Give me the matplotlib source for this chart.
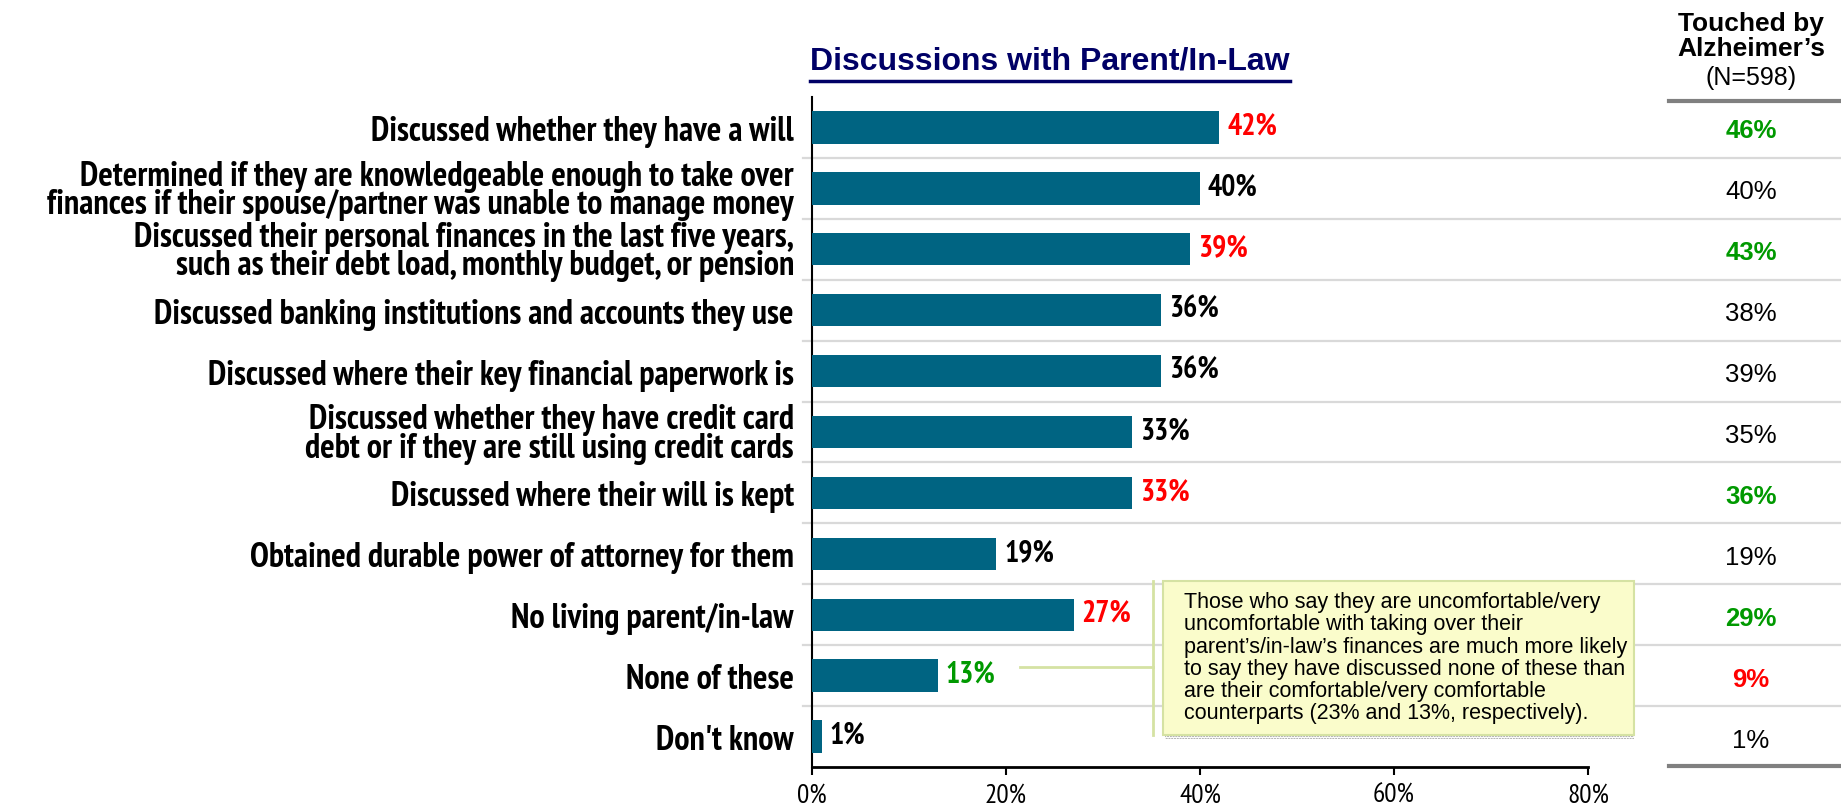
import matplotlib
matplotlib.use("Agg")
import matplotlib.pyplot as plt
import matplotlib.patheffects as pe
from matplotlib import font_manager
from matplotlib.font_manager import FontProperties
from matplotlib.lines import Line2D
from matplotlib.patches import Rectangle
from matplotlib.transforms import blended_transform_factory

W, H = 1841, 804

categories = [
    "Discussed whether they have a will",
    "Determined if they are knowledgeable enough to take over\nfinances if their spouse/partner was unable to manage money",
    "Discussed their personal finances in the last five years,\nsuch as their debt load, monthly budget, or pension",
    "Discussed banking institutions and accounts they use",
    "Discussed where their key financial paperwork is",
    "Discussed whether they have credit card\ndebt or if they are still using credit cards",
    "Discussed where their will is kept",
    "Obtained durable power of attorney for them",
    "No living parent/in-law",
    "None of these",
    "Don't know",
]
parent_pct = [42, 40, 39, 36, 36, 33, 33, 19, 27, 13, 1]
parent_flag = ["low", "", "low", "", "", "", "low", "", "low", "high", ""]
alz_pct = [46, 40, 43, 38, 39, 35, 36, 19, 29, 9, 1]
alz_flag = ["high", "", "high", "", "", "", "high", "", "high", "low", ""]
xticks = [0, 20, 40, 60, 80]

BAR = "#006482"
FLAG_COL = {"low": "#FF0000", "high": "#009900", "": "black"}
REG = "Liberation Sans"


def is_bold(w):
    return w in ("bold", "heavy", "black", "semibold", "demibold") or (
        isinstance(w, int) and w >= 600)


def narrow_font():
    # look for an Arial Narrow lookalike, fall back to plain Liberation Sans
    ttf = font_manager.fontManager.ttflist
    cands = [f for f in ttf if "Narrow" in f.name]
    cands += [f for f in ttf if f.name == "DejaVu Sans" and "condensed" in str(f.stretch).lower()]
    if not cands:
        return REG, "normal", True
    bolds = [f for f in cands if is_bold(f.weight)]
    pick = bolds[0] if bolds else cands[0]
    stretch = "condensed" if pick.name == "DejaVu Sans" else "normal"
    return pick.name, stretch, bool(bolds) or pick.name == REG


NARROW, STRETCH, HAS_BOLD = narrow_font()

fig = plt.figure(figsize=(W / 100, H / 100), dpi=100)
renderer = fig.canvas.get_renderer()


def fx(px):
    return px / W


def fy(py):
    return 1 - py / H


def fit_size(text, fp, target_px, base=20.0):
    t = fig.text(0, 0, text, fontproperties=fp, fontsize=base)
    w = t.get_window_extent(renderer).width
    t.remove()
    return base * target_px / w


def embolden(color):
    # narrow family may lack a bold face: thicken strokes instead
    if HAS_BOLD:
        return None
    return [pe.withStroke(linewidth=1.3, foreground=color)]


fp_bold = FontProperties(family=NARROW, stretch=STRETCH, weight="bold")
fp_tick = FontProperties(family=NARROW, stretch=STRETCH)
lab_size = fit_size("finances if their spouse/partner was unable to manage money", fp_bold, 747)
val_size = fit_size("40%", fp_bold, 50)
tick_size = fit_size("80%", fp_tick, 42)

ax = fig.add_axes([fx(812), fy(768), fx(1588) - fx(812), fy(98) - fy(768)])
rows = list(range(len(categories)))
ax.barh(rows, parent_pct, height=0.53, color=BAR, zorder=3)
ax.set_xlim(0, 80)
ax.set_ylim(len(categories) - 0.5, -0.5)
ax.set_yticks(rows)
ax.set_yticklabels(categories)
for lab in ax.get_yticklabels():
    lab.set_fontproperties(fp_bold)
    lab.set_fontsize(lab_size)
    lab.set_linespacing(0.86)
    lab.set_path_effects(embolden("black") or [])
ax.tick_params(axis="y", length=0, pad=13)
ax.set_xticks(xticks)
ax.set_xticklabels([f"{t}%" for t in xticks])
for lab in ax.get_xticklabels():
    lab.set_fontproperties(fp_tick)
    lab.set_fontsize(tick_size)
ax.tick_params(axis="x", length=6, width=1.5, direction="out", pad=5)
for s in ("top", "right"):
    ax.spines[s].set_visible(False)
ax.spines["left"].set_linewidth(1.5)
ax.spines["bottom"].set_linewidth(2)

# bar value labels
for i, (v, f) in enumerate(zip(parent_pct, parent_flag)):
    ax.text(v + 0.8, i - 0.03, f"{v}%", va="center", ha="left", fontproperties=fp_bold,
            fontsize=val_size, color=FLAG_COL[f], zorder=4,
            path_effects=embolden(FLAG_COL[f]))

# row separators across chart and right column
ytr = ax.get_yaxis_transform()
for k in range(len(categories) - 1):
    ax.plot([-0.0116, 1.33], [k + 0.5, k + 0.5], transform=ytr, color="#d9d9d9",
            lw=1.6, clip_on=False, zorder=1)

# right column
colx = fx(1751)
btr = blended_transform_factory(fig.transFigure, ax.transData)
for i, (v, f) in enumerate(zip(alz_pct, alz_flag)):
    fig.text(colx, i + 0.05, f"{v}%", transform=btr, ha="center", va="center",
             fontfamily=REG, fontsize=18.5, fontweight="bold" if f else "normal",
             color=FLAG_COL[f])
fig.text(colx, fy(24), "Touched by", ha="center", va="center", fontfamily=REG,
         fontweight="bold", fontsize=19)
fig.text(colx, fy(49), "Alzheimer\u2019s", ha="center", va="center", fontfamily=REG,
         fontweight="bold", fontsize=19)
fig.text(colx, fy(78), "(N=598)", ha="center", va="center", fontfamily=REG, fontsize=18)
for py in (102, 767):
    fig.add_artist(Line2D([fx(1669), 1], [fy(py), fy(py)], color="#808080", lw=3))

# title with underline
title = fig.text(fx(1050), fy(61), "Discussions with Parent/In-Law", ha="center", va="center",
                 fontfamily=REG, fontweight="bold", fontsize=23, color="#000066")
bb = title.get_window_extent(renderer)
fig.add_artist(Line2D([bb.x0 / W, bb.x1 / W], [fy(82), fy(82)], color="#000066", lw=2.5))

# callout
line_col = "#D5E2A3"
fig.add_artist(Line2D([fx(1153), fx(1153)], [fy(582), fy(736)], color=line_col, lw=2))
fig.add_artist(Line2D([fx(1020), fx(1153)], [fy(668), fy(668)], color=line_col, lw=2))
fig.add_artist(Rectangle((fx(1165), fy(740)), fx(1634) - fx(1165), fy(736) - fy(740),
                         facecolor="white", edgecolor="#9a9a9a", hatch="......", lw=0))
fig.add_artist(Rectangle((fx(1163), fy(736)), fx(1634) - fx(1163), fy(582) - fy(736),
                         facecolor="#FAFCCB", edgecolor=line_col, lw=1.5))
note = ("Those who say they are uncomfortable/very\n"
        "uncomfortable with taking over their\n"
        "parent\u2019s/in-law\u2019s finances are much more likely\n"
        "to say they have discussed none of these than\n"
        "are their comfortable/very comfortable\n"
        "counterparts (23% and 13%, respectively).")
fig.text(fx(1184), fy(592), note, ha="left", va="top", fontfamily=REG, fontsize=15.5,
         linespacing=1.08)

fig.savefig("out.png", dpi=100)
